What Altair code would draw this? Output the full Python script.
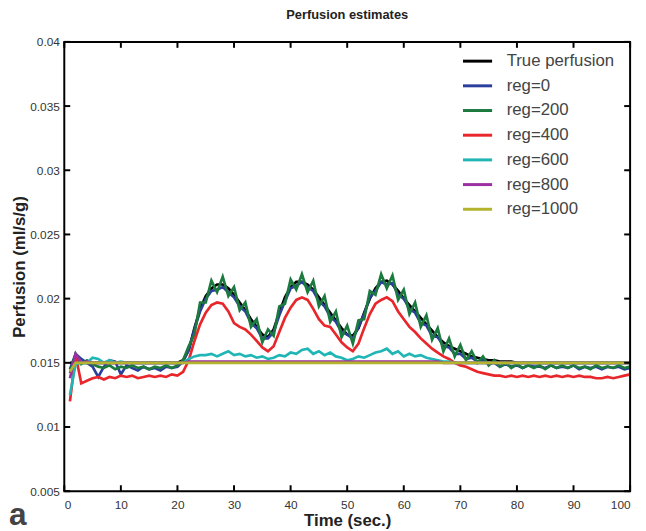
import altair as alt
import pandas as pd

# ---------------- data ----------------
time_s = list(range(1, 101))

true_perfusion = [
    0.0150, 0.0150, 0.0150, 0.0150, 0.0150, 0.0150, 0.0150, 0.0150, 0.0150, 0.0150,
    0.0150, 0.0150, 0.0150, 0.0150, 0.0150, 0.0150, 0.0150, 0.0150, 0.0150, 0.0150,
    0.0152, 0.0160, 0.0177, 0.0192, 0.0202, 0.0208, 0.0211, 0.0211, 0.0208, 0.0203,
    0.0197, 0.0191, 0.0184, 0.0178, 0.0172, 0.0170, 0.0176, 0.0189, 0.0201, 0.0209,
    0.0213, 0.0213, 0.0211, 0.0207, 0.0201, 0.0195, 0.0189, 0.0183, 0.0177, 0.0172,
    0.0171, 0.0177, 0.0189, 0.0200, 0.0208, 0.0213, 0.0214, 0.0211, 0.0206, 0.0200,
    0.0195, 0.0190, 0.0185, 0.0180, 0.0175, 0.0170, 0.0166, 0.0163, 0.0161, 0.0159,
    0.0157, 0.0155, 0.0154, 0.0153, 0.0152, 0.0152, 0.0151, 0.0151, 0.0151, 0.0150,
    0.0150, 0.0150, 0.0150, 0.0150, 0.0150, 0.0150, 0.0150, 0.0150, 0.0150, 0.0150,
    0.0150, 0.0150, 0.0150, 0.0150, 0.0150, 0.0150, 0.0150, 0.0150, 0.0150, 0.0150,
]

reg_0 = [
    0.0145, 0.0157, 0.0153, 0.0150, 0.0147, 0.0139, 0.0147, 0.0152, 0.0151, 0.0141,
    0.0148, 0.0146, 0.0144, 0.0147, 0.0145, 0.0146, 0.0144, 0.0147, 0.0146, 0.0147,
    0.0151, 0.0160, 0.0176, 0.0190, 0.0200, 0.0206, 0.0207, 0.0209, 0.0205, 0.0201,
    0.0194, 0.0190, 0.0181, 0.0177, 0.0169, 0.0169, 0.0174, 0.0187, 0.0198, 0.0208,
    0.0210, 0.0213, 0.0209, 0.0206, 0.0198, 0.0194, 0.0186, 0.0182, 0.0174, 0.0172,
    0.0169, 0.0178, 0.0188, 0.0201, 0.0206, 0.0213, 0.0211, 0.0212, 0.0203, 0.0200,
    0.0192, 0.0189, 0.0181, 0.0179, 0.0171, 0.0170, 0.0163, 0.0162, 0.0157, 0.0157,
    0.0153, 0.0154, 0.0151, 0.0152, 0.0149, 0.0150, 0.0147, 0.0149, 0.0147, 0.0148,
    0.0146, 0.0148, 0.0147, 0.0147, 0.0146, 0.0148, 0.0146, 0.0147, 0.0146, 0.0148,
    0.0145, 0.0147, 0.0146, 0.0147, 0.0145, 0.0147, 0.0146, 0.0147, 0.0145, 0.0146,
]

reg_200 = [
    0.0142, 0.0157, 0.0149, 0.0152, 0.0149, 0.0147, 0.0146, 0.0148, 0.0145, 0.0147,
    0.0146, 0.0148, 0.0146, 0.0147, 0.0145, 0.0147, 0.0146, 0.0148, 0.0146, 0.0148,
    0.0152, 0.0163, 0.0172, 0.0197, 0.0197, 0.0214, 0.0205, 0.0217, 0.0202, 0.0209,
    0.0191, 0.0197, 0.0178, 0.0184, 0.0166, 0.0176, 0.0171, 0.0194, 0.0196, 0.0215,
    0.0207, 0.0219, 0.0205, 0.0214, 0.0194, 0.0202, 0.0182, 0.0190, 0.0170, 0.0179,
    0.0165, 0.0183, 0.0184, 0.0206, 0.0203, 0.0219, 0.0208, 0.0218, 0.0199, 0.0207,
    0.0188, 0.0197, 0.0178, 0.0187, 0.0168, 0.0177, 0.0159, 0.0169, 0.0155, 0.0164,
    0.0152, 0.0159, 0.0150, 0.0155, 0.0148, 0.0152, 0.0147, 0.0150, 0.0146, 0.0149,
    0.0146, 0.0148, 0.0146, 0.0148, 0.0145, 0.0148, 0.0146, 0.0148, 0.0146, 0.0148,
    0.0146, 0.0147, 0.0145, 0.0148, 0.0146, 0.0147, 0.0146, 0.0148, 0.0146, 0.0147,
]

reg_400 = [
    0.0120, 0.0156, 0.0134, 0.0136, 0.0138, 0.0139, 0.0137, 0.0139, 0.0138, 0.0140,
    0.0139, 0.0140, 0.0138, 0.0139, 0.0140, 0.0139, 0.0140, 0.0139, 0.0141, 0.0140,
    0.0143, 0.0152, 0.0167, 0.0180, 0.0189, 0.0195, 0.0197, 0.0196, 0.0190, 0.0181,
    0.0178, 0.0176, 0.0172, 0.0167, 0.0162, 0.0159, 0.0163, 0.0174, 0.0185, 0.0193,
    0.0199, 0.0201, 0.0199, 0.0192, 0.0184, 0.0179, 0.0178, 0.0172, 0.0166, 0.0162,
    0.0159, 0.0165, 0.0177, 0.0188, 0.0196, 0.0199, 0.0201, 0.0198, 0.0190, 0.0184,
    0.0178, 0.0174, 0.0169, 0.0165, 0.0161, 0.0158, 0.0155, 0.0153, 0.0150, 0.0148,
    0.0147, 0.0145, 0.0143, 0.0142, 0.0141, 0.0140, 0.0140, 0.0139, 0.0140, 0.0139,
    0.0140, 0.0139, 0.0140, 0.0139, 0.0140, 0.0139, 0.0140, 0.0139, 0.0140, 0.0139,
    0.0140, 0.0139, 0.0139, 0.0138, 0.0138, 0.0139, 0.0138, 0.0139, 0.0140, 0.0141,
]

reg_600 = [
    0.0125, 0.0149, 0.0150, 0.0150, 0.0154, 0.0153, 0.0150, 0.0152, 0.0150, 0.0151,
    0.0150, 0.0150, 0.0150, 0.0150, 0.0150, 0.0150, 0.0150, 0.0150, 0.0150, 0.0150,
    0.0150, 0.0153, 0.0155, 0.0156, 0.0156, 0.0157, 0.0155, 0.0157, 0.0159, 0.0156,
    0.0157, 0.0155, 0.0156, 0.0154, 0.0155, 0.0153, 0.0154, 0.0156, 0.0155, 0.0158,
    0.0157, 0.0160, 0.0161, 0.0157, 0.0159, 0.0156, 0.0158, 0.0155, 0.0154, 0.0152,
    0.0153, 0.0155, 0.0154, 0.0156, 0.0158, 0.0159, 0.0161, 0.0157, 0.0159, 0.0155,
    0.0157, 0.0155, 0.0156, 0.0154, 0.0153, 0.0152, 0.0151, 0.0151, 0.0150, 0.0150,
    0.0150, 0.0150, 0.0150, 0.0150, 0.0150, 0.0150, 0.0150, 0.0150, 0.0150, 0.0150,
    0.0150, 0.0150, 0.0150, 0.0150, 0.0150, 0.0150, 0.0150, 0.0150, 0.0150, 0.0150,
    0.0150, 0.0150, 0.0150, 0.0150, 0.0150, 0.0150, 0.0150, 0.0150, 0.0150, 0.0150,
]

reg_800 = [
    0.0138, 0.0157, 0.0150, 0.0151, 0.0150, 0.0150, 0.0150, 0.0150, 0.0150, 0.0150,
    0.0150, 0.0150, 0.0150, 0.0150, 0.0150, 0.0150, 0.0150, 0.0150, 0.0150, 0.0150,
    0.0150, 0.0151, 0.0151, 0.0151, 0.0151, 0.0151, 0.0151, 0.0151, 0.0151, 0.0151,
    0.0151, 0.0151, 0.0151, 0.0151, 0.0151, 0.0151, 0.0151, 0.0151, 0.0151, 0.0151,
    0.0151, 0.0151, 0.0151, 0.0151, 0.0151, 0.0151, 0.0151, 0.0151, 0.0151, 0.0151,
    0.0151, 0.0151, 0.0151, 0.0151, 0.0151, 0.0151, 0.0151, 0.0151, 0.0151, 0.0151,
    0.0151, 0.0151, 0.0151, 0.0151, 0.0151, 0.0151, 0.0150, 0.0150, 0.0150, 0.0150,
    0.0150, 0.0150, 0.0150, 0.0150, 0.0150, 0.0150, 0.0150, 0.0150, 0.0150, 0.0150,
    0.0150, 0.0150, 0.0150, 0.0150, 0.0150, 0.0150, 0.0150, 0.0150, 0.0150, 0.0150,
    0.0150, 0.0150, 0.0150, 0.0150, 0.0150, 0.0150, 0.0150, 0.0150, 0.0150, 0.0150,
]

reg_1000 = [
    0.0143, 0.0150, 0.0150, 0.0150, 0.0150, 0.0150, 0.0150, 0.0150, 0.0150, 0.0150,
    0.0150, 0.0150, 0.0150, 0.0150, 0.0150, 0.0150, 0.0150, 0.0150, 0.0150, 0.0150,
    0.0150, 0.0150, 0.0150, 0.0150, 0.0150, 0.0150, 0.0150, 0.0150, 0.0150, 0.0150,
    0.0150, 0.0150, 0.0150, 0.0150, 0.0150, 0.0150, 0.0150, 0.0150, 0.0150, 0.0150,
    0.0150, 0.0150, 0.0150, 0.0150, 0.0150, 0.0150, 0.0150, 0.0150, 0.0150, 0.0150,
    0.0150, 0.0150, 0.0150, 0.0150, 0.0150, 0.0150, 0.0150, 0.0150, 0.0150, 0.0150,
    0.0150, 0.0150, 0.0150, 0.0150, 0.0150, 0.0150, 0.0150, 0.0150, 0.0150, 0.0150,
    0.0150, 0.0150, 0.0150, 0.0150, 0.0150, 0.0150, 0.0150, 0.0150, 0.0150, 0.0150,
    0.0150, 0.0150, 0.0150, 0.0150, 0.0150, 0.0150, 0.0150, 0.0150, 0.0150, 0.0150,
    0.0150, 0.0150, 0.0150, 0.0150, 0.0150, 0.0150, 0.0150, 0.0150, 0.0150, 0.0150,
]

series_names = ["True perfusion", "reg=0", "reg=200", "reg=400", "reg=600", "reg=800", "reg=1000"]
series_values = [true_perfusion, reg_0, reg_200, reg_400, reg_600, reg_800, reg_1000]
series_colors = ["#000000", "#2b3f9c", "#1b7a3d", "#e8262b", "#20b6b6", "#9c30a0", "#b3b32e"]

x_ticks = [0, 10, 20, 30, 40, 50, 60, 70, 80, 90, 100]
y_ticks = [0.005, 0.01, 0.015, 0.02, 0.025, 0.03, 0.035, 0.04]
panel_label = "a"

rows = []
for name, vals in zip(series_names, series_values):
    for t, v in zip(time_s, vals):
        rows.append({"t": t, "v": v, "series": name})
df = pd.DataFrame(rows)
xtick_df = pd.DataFrame({"t": x_ticks})
ytick_df = pd.DataFrame({"v": y_ticks})

# ---------------- chart ----------------
W, H = 573, 455
TICK = 6
LABEL_FONT = "Liberation Sans, Arial, sans-serif"

x_scale = alt.Scale(domain=[0, 100], nice=False, zero=False)
y_scale = alt.Scale(domain=[0.005, 0.04], nice=False, zero=False)
color_scale = alt.Scale(domain=series_names, range=series_colors)

legend = alt.Legend(
    orient="none", legendX=402, legendY=3, title=None,
    symbolType="stroke", symbolSize=870, symbolStrokeWidth=3,
    labelFont=LABEL_FONT, labelFontSize=17, labelColor="#444444",
    labelOffset=13, rowPadding=0, padding=0,
)

x_axis_main = alt.Axis(
    values=x_ticks, title="Time (sec.)", ticks=False, domain=False,
    grid=False, labelPadding=9, titlePadding=2,
)
y_axis_main = alt.Axis(
    values=y_ticks, title="Perfusion (ml/s/g)", format="~g", ticks=False,
    domain=False, grid=False, labelPadding=5, titlePadding=1,
)

X = alt.X("t:Q", scale=x_scale, axis=x_axis_main)
Y = alt.Y("v:Q", scale=y_scale, axis=y_axis_main)

layers = []
for name in series_names:
    layer = (
        alt.Chart(df)
        .transform_filter(alt.datum.series == name)
        .mark_line(strokeWidth=2.7)
        .encode(
            x=X, y=Y,
            color=alt.Color("series:N", scale=color_scale, legend=legend),
        )
    )
    layers.append(layer)

tick_style = dict(color="#000000", strokeWidth=2)
bottom_ticks = alt.Chart(xtick_df).mark_rule(**tick_style).encode(
    x=X, y=alt.value(H), y2=alt.value(H - TICK))
top_ticks = alt.Chart(xtick_df).mark_rule(**tick_style).encode(
    x=X, y=alt.value(0), y2=alt.value(TICK))
left_ticks = alt.Chart(ytick_df).mark_rule(**tick_style).encode(
    y=Y, x=alt.value(0), x2=alt.value(TICK))
right_ticks = alt.Chart(ytick_df).mark_rule(**tick_style).encode(
    y=Y, x=alt.value(W - TICK), x2=alt.value(W))
layers += [bottom_ticks, top_ticks, left_ticks, right_ticks]

label_data = alt.Data(values=[{"label": panel_label}])
frame = alt.Chart(label_data).mark_rect(fillOpacity=0, stroke="#000000", strokeWidth=2).encode(
    x=alt.value(0), x2=alt.value(W), y=alt.value(0), y2=alt.value(H))
layers.append(frame)

label_layer = (
    alt.Chart(label_data)
    .mark_text(font=LABEL_FONT, fontSize=32, fontWeight="bold",
               color="#444444", align="left", baseline="alphabetic")
    .encode(text="label:N", x=alt.value(-56), y=alt.value(489))
)
layers.append(label_layer)

chart = (
    alt.layer(*layers)
    .properties(
        width=W, height=H,
        title=alt.TitleParams("Perfusion estimates", font=LABEL_FONT, fontSize=13,
                              fontWeight="bold", color="#222222", offset=14, anchor="middle"),
        autosize=alt.AutoSizeParams(type="none"),
        padding={"left": 57, "top": 31, "right": 8, "bottom": 37},
    )
    .configure_view(stroke=None)
    .configure_axis(
        labelFont=LABEL_FONT, labelFontSize=12, labelColor="#333333",
        titleFont=LABEL_FONT, titleFontSize=17, titleFontWeight="bold", titleColor="#222222",
    )
)

chart.save("out.html", embed_options={"renderer": "svg", "actions": False})
